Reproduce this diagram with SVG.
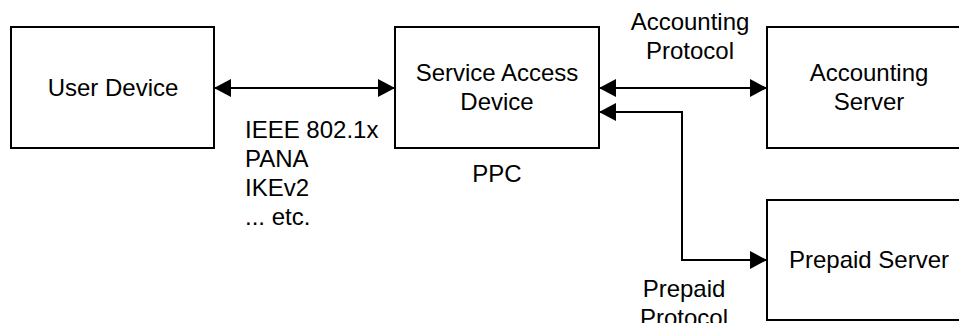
<svg xmlns="http://www.w3.org/2000/svg" width="959" height="323" viewBox="0 0 959 323">
  <style>
    .box { fill: #ffffff; stroke: #000000; stroke-width: 2; }
    .lbl { font-family: "Liberation Sans", Arial, sans-serif; font-size: 24px; fill: #000000; }
    .mid { text-anchor: middle; }
    .wire { fill: none; stroke: #000000; stroke-width: 2; }
  </style>
  <defs>
    <marker id="head" viewBox="0 0 17 18" refX="17" refY="9" markerWidth="17" markerHeight="18" markerUnits="userSpaceOnUse" orient="auto-start-reverse">
      <path d="M0,0 L17,9 L0,18 Z" fill="#000000"/>
    </marker>
  </defs>
  <rect width="959" height="323" fill="#ffffff"/>

  <g id="user-device">
    <rect class="box" x="11" y="27" width="203" height="121"/>
    <text class="lbl mid" x="113" y="96">User Device</text>
  </g>

  <g id="service-access-device">
    <rect class="box" x="395" y="27" width="204" height="121"/>
    <text class="lbl mid" x="497" y="81">Service Access</text>
    <text class="lbl mid" x="497" y="110">Device</text>
    <text class="lbl mid" x="497" y="182">PPC</text>
  </g>

  <g id="accounting-server">
    <rect class="box" x="767" y="27" width="204" height="121"/>
    <text class="lbl mid" x="869" y="81">Accounting</text>
    <text class="lbl mid" x="869" y="110">Server</text>
  </g>

  <g id="prepaid-server">
    <rect class="box" x="767" y="200" width="204" height="120"/>
    <text class="lbl mid" x="869" y="268">Prepaid Server</text>
  </g>

  <g id="connectors">
    <line class="wire" x1="214" y1="88" x2="395" y2="88" marker-start="url(#head)" marker-end="url(#head)"/>
    <line class="wire" x1="599" y1="88" x2="767" y2="88" marker-start="url(#head)" marker-end="url(#head)"/>
    <path class="wire" d="M599,112 H682 V260 H767" marker-start="url(#head)" marker-end="url(#head)"/>
  </g>

  <g id="connector-labels">
    <text class="lbl" x="245" y="138">IEEE 802.1x</text>
    <text class="lbl" x="245" y="167">PANA</text>
    <text class="lbl" x="245" y="196">IKEv2</text>
    <text class="lbl" x="245" y="225">... etc.</text>
    <text class="lbl mid" x="690" y="30">Accounting</text>
    <text class="lbl mid" x="690" y="59">Protocol</text>
    <text class="lbl mid" x="684" y="297">Prepaid</text>
    <text class="lbl mid" x="684" y="326">Protocol</text>
  </g>
</svg>
